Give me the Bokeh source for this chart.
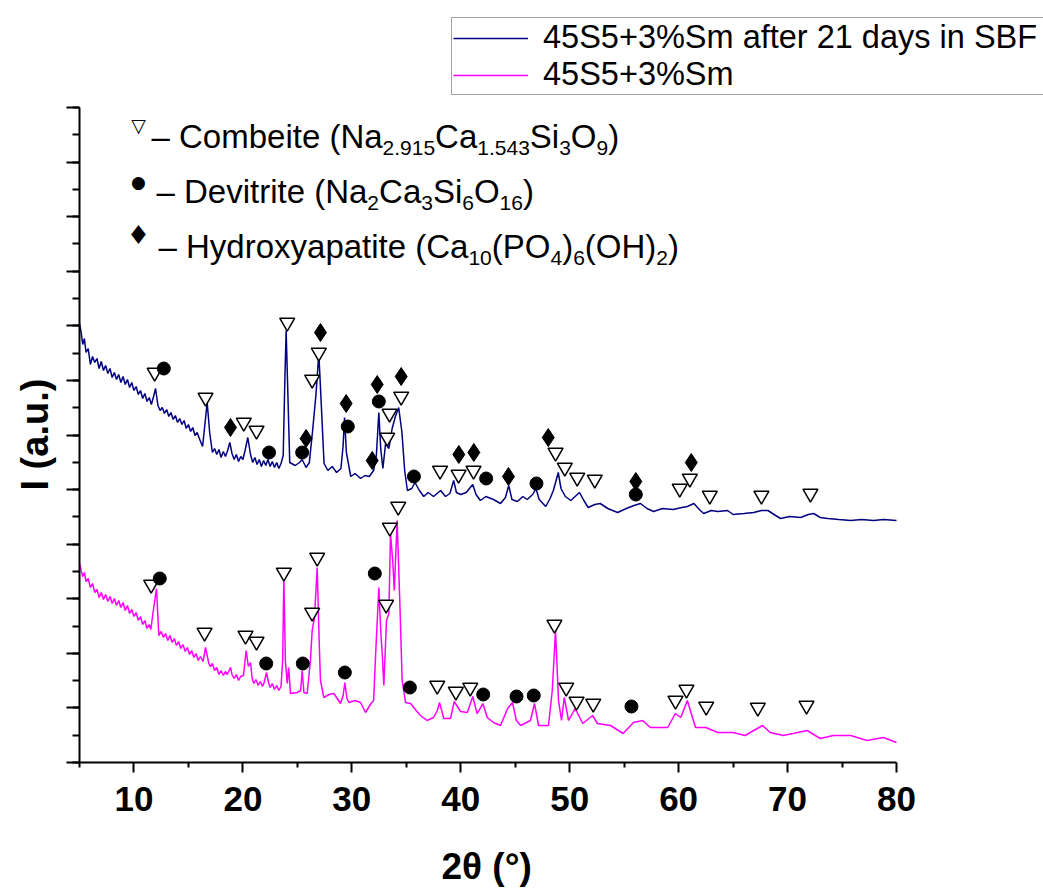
import numpy as np
from bokeh.plotting import figure
from bokeh.models import Range1d, FixedTicker, Label, Legend, LegendItem, CustomLabelingPolicy, Title
from bokeh.embed import file_html
from bokeh.resources import INLINE

# ---------------- data ----------------
# 45S5+3%Sm after 21 days in SBF (upper pattern)
two_theta_sbf = [5.0, 5.15, 5.3, 5.45, 5.6, 5.8, 6.0, 6.2, 6.4, 6.6, 6.8, 7.0, 7.2, 7.4, 7.6, 7.8,
                 8.0, 8.2, 8.4, 8.6, 8.8, 9.0, 9.2, 9.4, 9.6, 9.8, 10.0, 10.2, 10.4, 10.6, 10.8, 11.0,
                 11.2, 11.4, 11.6, 11.8, 11.98,
                 12.2, 12.4, 12.6, 12.8, 13.0, 13.2, 13.4, 13.6, 13.8, 14.0, 14.2, 14.4, 14.6, 14.8,
                 15.0, 15.2, 15.4, 15.6, 15.8, 16.0, 16.3, 16.55, 16.72,
                 16.95, 17.2, 17.4, 17.6, 17.8, 18.0, 18.2, 18.4, 18.6, 18.8, 19.0, 19.2, 19.4, 19.6,
                 19.8, 20.0, 20.2, 20.45, 20.7, 20.9, 21.1, 21.3, 21.5, 21.7, 21.9, 22.1, 22.3, 22.5,
                 22.7, 22.9, 23.1, 23.3, 23.5, 23.7,
                 23.85, 23.97, 24.12, 24.3,
                 24.8, 25.2, 25.44, 25.8, 26.1, 26.4, 26.7, 26.97, 27.2, 27.45, 27.8, 28.2, 28.6, 29.0,
                 29.2, 29.33, 29.5, 29.9, 30.3, 30.8, 31.2, 31.6, 32.0, 32.25, 32.48, 32.65, 32.85, 33.1,
                 33.4, 33.7, 34.0, 34.3, 34.6, 34.85, 35.1, 35.5, 35.8, 36.2, 36.6, 37.0, 37.5, 38.15,
                 38.6, 39.0, 39.35, 39.6, 40.0, 40.5, 41.1, 41.4, 41.8, 42.3, 43.0, 43.65, 44.1, 44.4,
                 44.7, 45.2, 45.7, 46.1, 46.6, 46.9, 47.2, 47.8, 48.2, 48.5, 48.95, 49.2, 49.6, 50.1,
                 50.9, 51.3, 51.7, 52.3, 52.8, 53.5, 54.4, 55.2, 55.9, 56.5, 57.1, 57.7, 58.5, 59.5,
                 60.3, 60.8, 61.4, 61.9, 62.3, 63.0, 63.6, 64.5, 65.0, 66.0, 66.9, 67.6, 68.2, 68.9,
                 69.35, 70.2, 71.2, 71.9, 72.4, 73.0, 73.7, 74.7, 75.8, 76.8, 77.9, 78.8, 80.0]
intensity_sbf = [439, 430, 418, 424, 410, 414, 398, 406, 400, 404, 394, 401, 392, 397, 389, 394,
                 385, 390, 383, 388, 380, 386, 378, 383, 375, 380, 372, 376, 368, 372, 364, 369,
                 361, 365, 358, 366, 374,
                 357, 352, 355, 349, 353, 346, 350, 343, 347, 340, 344, 338, 342, 334,
                 338, 331, 335, 327, 330, 324, 316, 342, 360,
                 330, 310, 314, 308, 313, 305, 311, 306, 312, 320, 309, 303, 308, 301,
                 306, 303, 312, 325, 308, 300, 305, 298, 303, 296, 302, 297, 303, 296,
                 301, 295, 300, 294, 299, 307,
                 382, 432, 372, 300,
                 297, 300, 303, 295, 300, 332, 367, 409, 357, 299, 292, 296, 290, 294,
                 317, 345, 310, 286, 289, 284, 287, 286, 292, 307, 350, 314, 294, 319,
                 314, 334, 346, 355, 330, 292, 272, 274, 280, 272, 266, 270, 266, 272,
                 266, 269, 282, 270, 268, 270, 278, 268, 262, 266, 263, 259, 265, 277,
                 263, 261, 266, 263, 268, 274, 263, 256, 264, 272, 290, 274, 266, 262,
                 270, 262, 255, 258, 259, 254, 250, 254, 257, 259, 254, 251, 254, 253,
                 255, 256, 259, 253, 249, 252, 251, 252, 248, 249, 250, 252, 252, 247,
                 244, 246, 245, 248, 249, 245, 244, 243, 242, 243, 242, 243, 242]

# 45S5+3%Sm (lower pattern)
two_theta_ref = [5.0, 5.15, 5.3, 5.45, 5.6, 5.8, 6.0, 6.2, 6.4, 6.6, 6.8, 7.0, 7.2, 7.4, 7.6, 7.8,
                 8.0, 8.2, 8.4, 8.6, 8.8, 9.0, 9.2, 9.4, 9.6, 9.8, 10.0, 10.2, 10.4, 10.6, 10.8, 11.0,
                 11.2, 11.4, 11.55, 11.75, 12.07,
                 12.28, 12.5, 12.7, 12.9, 13.1, 13.3, 13.5, 13.7, 13.9, 14.1, 14.3, 14.5, 14.7, 14.9,
                 15.1, 15.3, 15.5, 15.7, 15.9, 16.1, 16.35, 16.57,
                 16.87, 17.0, 17.2, 17.4, 17.6, 17.8, 18.0, 18.2, 18.4, 18.56, 18.86, 19.0, 19.2, 19.4,
                 19.6, 19.8, 20.05, 20.3,
                 20.5, 20.7, 20.85, 21.0, 21.2, 21.4, 21.6, 21.8, 21.95, 22.17, 22.35, 22.5, 22.7, 22.9,
                 23.1, 23.3, 23.5, 23.65,
                 23.76, 23.9, 24.07,
                 24.2, 24.37, 24.98, 25.3, 25.44, 25.6, 25.9, 26.2, 26.36, 26.57, 26.82, 27.0, 27.12,
                 27.43, 27.9, 28.35, 28.96, 29.2, 29.36, 29.55, 29.73, 30.3, 30.8, 31.26, 31.7, 32.0,
                 32.2, 32.48, 32.65, 32.79, 32.94, 33.18, 33.4, 33.55, 33.75, 33.9, 34.16, 34.4, 34.62,
                 34.93, 35.4, 35.9, 36.3, 36.9, 37.5, 37.85, 38.05, 38.44, 39.06, 39.4, 39.98, 40.6,
                 41.1, 41.5, 42.03, 42.43, 43.0, 43.65, 44.3, 44.75, 45.1, 45.5, 46.4, 46.77, 47.14,
                 48.05, 48.4, 48.7, 48.97, 49.25, 49.5, 49.9, 50.5, 51.2, 52.1, 52.55, 53.75, 54.9,
                 55.86, 56.7, 57.4, 59.0, 59.7, 60.2, 60.8, 61.55, 62.5, 63.6, 65.0, 66.1, 67.7, 68.4,
                 69.6, 70.5, 71.8, 73.0, 74.2, 75.8, 77.3, 78.8, 80.0]
intensity_ref = [199, 192, 186, 190, 181, 184, 175, 179, 170, 173, 165, 170, 163, 168, 161, 166,
                 159, 164, 157, 162, 155, 160, 152, 157, 149, 153, 146, 150, 142, 146, 138, 142,
                 134, 138, 133, 150, 174,
                 127, 131, 125, 129, 122, 127, 120, 124, 117, 121, 114, 118, 111, 115,
                 108, 112, 105, 109, 102, 106, 101, 115,
                 99, 96, 99, 92, 95, 88, 92, 87, 91, 88, 95, 88, 84, 88,
                 82, 86, 87, 112,
                 96, 100, 84, 79, 83, 77, 81, 76, 80, 90, 80, 75, 79, 73,
                 77, 72, 76, 102,
                 184, 102, 79,
                 95, 69, 70, 72, 92, 70, 69, 102, 132, 145, 195, 122, 82,
                 65, 68, 69, 59, 67, 80, 64, 60, 62, 60, 50, 58, 62,
                 112, 175, 132, 109, 77, 142, 149, 229, 202, 172, 242, 162, 82,
                 60, 59, 52, 47, 42, 45, 52, 60, 44, 44, 61, 51, 50,
                 66, 49, 59, 45, 40, 37, 54, 60, 42, 37, 42, 59, 37,
                 37, 72, 132, 62, 42, 65, 42, 54, 39, 47, 39, 37, 29,
                 40, 42, 35, 35, 49, 45, 62, 35, 35, 30, 30, 27, 37, 30,
                 27, 29, 32, 24, 27, 27, 22, 25, 20]

# phase markers: combeite (open triangles), devitrite (dots), hydroxyapatite (diamonds)
comb_sbf_x = [11.9, 16.57, 20.08, 21.25, 24.07, 26.36, 26.97, 33.25, 33.46, 34.53, 38.1, 39.8, 41.17,
              48.7, 49.55, 50.69, 52.3, 60.1, 61.03, 62.86, 67.6, 72.1]
comb_sbf_y = [390, 365, 340, 332, 440, 383, 410, 325, 349, 366, 292, 288, 292,
              310, 295, 285, 283, 274, 284, 267, 267, 269]
dev_sbf_x = [12.74, 22.4, 25.44, 29.63, 32.48, 35.7, 42.33, 46.95, 56.07]
dev_sbf_y = [394, 310, 310, 336, 361, 286, 284, 279, 268]
hap_sbf_x = [18.86, 25.8, 27.12, 29.48, 31.87, 32.33, 34.53, 39.82, 41.2, 44.38, 48.03, 56.07, 61.16]
hap_sbf_y = [335, 324, 430, 359, 302, 378, 386, 308, 310, 286, 325, 281, 300]

comb_ref_x = [11.58, 16.48, 20.24, 21.25, 23.76, 26.36, 26.82, 33.15, 33.49, 34.26, 37.84, 39.55, 40.87,
              48.6, 49.68, 50.63, 52.16, 59.71, 60.72, 62.53, 67.27, 71.74]
comb_ref_y = [178, 130, 127, 121, 190, 150, 205, 158, 235, 256, 77, 71, 75,
              138, 75, 61, 59, 62, 73, 56, 55, 57]
dev_ref_x = [12.37, 22.14, 25.5, 29.36, 32.11, 35.33, 42.06, 45.12, 46.7, 55.67]
dev_ref_y = [184, 99, 99, 90, 189, 75, 68, 66, 67, 56]

x_ticks = [10, 20, 30, 40, 50, 60, 70, 80]
x_minor_ticks = [5, 15, 25, 35, 45, 55, 65, 75]

legend_labels = ["45S5+3%Sm after 21 days in SBF", "45S5+3%Sm"]
line_colors = ["#000080", "#ff00ff"]

# ---------------- layout ----------------
W, H = 1043, 889
L, R, B = 79, 896, 762          # frame left, x=80 position, x-axis position (px)
AX_TOP = 655                    # y-axis extends 655 px above the x axis
X0, X1 = 5, 80
x_end = X0 + (W - L) * (X1 - X0) / (R - L)   # frame runs to the canvas edge (room for the legend)

p = figure(width=W, height=H, x_range=Range1d(X0, x_end), y_range=Range1d(0, B),
           output_backend="svg", toolbar_location=None, title=None,
           min_border_left=L, min_border_right=0, min_border_top=0, min_border_bottom=H - B)
p.outline_line_color = None
p.background_fill_color = "white"
p.border_fill_color = "white"
p.xgrid.visible = False
p.ygrid.visible = False


def px2x(px):
    return X0 + (px - L) * (X1 - X0) / (R - L)


def py2y(py):
    return B - py


# axes
xa = p.xaxis[0]
xa.ticker = FixedTicker(ticks=x_ticks, minor_ticks=x_minor_ticks)
xa.bounds = (X0, X1)
xa.axis_line_width = 2
xa.major_tick_line_width = 2
xa.minor_tick_line_width = 2
xa.major_tick_in = 0
xa.major_tick_out = 10
xa.minor_tick_in = 0
xa.minor_tick_out = 5
xa.major_label_text_font = "Liberation Sans"
xa.major_label_text_font_style = "bold"
xa.major_label_text_font_size = "35px"
xa.major_label_text_color = "black"
xa.major_label_standoff = 14

ya = p.yaxis[0]
y_major = list(np.linspace(0, AX_TOP, 13))
y_minor = list(np.linspace(0, AX_TOP, 25))
ya.ticker = FixedTicker(ticks=y_major, minor_ticks=y_minor)
ya.bounds = (0, AX_TOP)
ya.axis_line_width = 2
ya.major_tick_line_width = 2
ya.minor_tick_line_width = 2
ya.major_tick_in = 0
ya.major_tick_out = 13
ya.minor_tick_in = 0
ya.minor_tick_out = 7
ya.major_label_text_font_size = "1px"
ya.major_label_standoff = 0
ya.major_label_policy = CustomLabelingPolicy(
    code="const all = [...indices]; for (const i of all) { indices.unset(i) } return indices")

# axis titles as side-panel titles so they can be placed off the frame centre
p.add_layout(Title(text="2θ (°)", align="left", offset=441 - L, vertical_align="top", standoff=0,
                   padding=dict(left=0, right=0, top=32, bottom=0),
                   text_font="Liberation Sans", text_font_style="bold", text_font_size="37px",
                   text_color="black"), "below")
p.add_layout(Title(text="I (a.u.)", align="left", offset=B - 490, vertical_align="bottom", standoff=8,
                   text_font="Liberation Sans", text_font_style="bold", text_font_size="38px",
                   text_color="black"), "left")

# curves
r_sbf = p.line(two_theta_sbf, intensity_sbf, line_color=line_colors[0], line_width=1.5)
r_ref = p.line(two_theta_ref, intensity_ref, line_color=line_colors[1], line_width=1.5)

# markers
tri = dict(marker="inverted_triangle", size=15, fill_color="white", line_color="black", line_width=1.5)
dot = dict(marker="circle", size=13, fill_color="black", line_color="black")
dia = dict(marker="diamond", size=18, fill_color="black", line_color="black")
p.scatter(comb_sbf_x, comb_sbf_y, **tri)
p.scatter(dev_sbf_x, dev_sbf_y, **dot)
p.scatter(hap_sbf_x, hap_sbf_y, **dia)
p.scatter(comb_ref_x, comb_ref_y, **tri)
p.scatter(dev_ref_x, dev_ref_y, **dot)

# legend (box runs past the right edge, as in the original)
legend = Legend(items=[LegendItem(label=legend_labels[0], renderers=[r_sbf]),
                       LegendItem(label=legend_labels[1], renderers=[r_ref])],
                location=(451 - L, B - 95),
                label_text_font="Liberation Sans", label_text_font_size="32.5px",
                label_text_color="black", glyph_width=75, glyph_height=30,
                label_standoff=15, label_width=520, padding=1, spacing=0, margin=0,
                border_line_color="#444444", border_line_width=1,
                background_fill_color="white", background_fill_alpha=1.0)
p.add_layout(legend)

# phase key with sub-scripted formulas
WID = {' ': 278, '(': 333, ')': 333, '.': 278, '–': 556, '%': 889, '+': 584,
       'A': 667, 'B': 667, 'C': 722, 'D': 722, 'F': 611, 'H': 722, 'N': 722, 'O': 778, 'P': 667,
       'S': 667, 'a': 556, 'b': 556, 'd': 556, 'e': 556, 'f': 278, 'h': 556, 'i': 222, 'm': 833,
       'n': 556, 'o': 556, 'p': 556, 'r': 333, 's': 500, 't': 278, 'v': 500, 'x': 500, 'y': 500}


def tw(txt, size):
    return sum(WID.get(c, 556) for c in txt) * size / 1000.0


MAIN, SUB, SUB_DY = 33, 21, 11


def formula(x0, base, pieces):
    x = x0
    for txt, sub in pieces:
        size = SUB if sub else MAIN
        p.add_layout(Label(x=px2x(x), y=py2y(base + (SUB_DY if sub else 0)), text=txt,
                           text_font="Liberation Sans", text_font_size=f"{size}px",
                           text_align="left", text_baseline="alphabetic", text_color="black"))
        x += tw(txt, size)


rows = [
    ("▽", "19px", 124, 151, 136, [("– Combeite (Na", 0), ("2.915", 1), ("Ca", 0), ("1.543", 1), ("Si", 0),
                                  ("3", 1), ("O", 0), ("9", 1), (")", 0)]),
    ("●", "17px", 181, 156, 191, [("– Devitrite (Na", 0), ("2", 1), ("Ca", 0), ("3", 1), ("Si", 0),
                                  ("6", 1), ("O", 0), ("16", 1), (")", 0)]),
    ("♦", "26px", 234, 158, 246, [("– Hydroxyapatite (Ca", 0), ("10", 1), ("(PO", 0), ("4", 1), (")", 0),
                                  ("6", 1), ("(OH)", 0), ("2", 1), (")", 0)]),
]
for sym, sym_size, sym_y, x0, base, pieces in rows:
    p.add_layout(Label(x=px2x(138), y=py2y(sym_y), text=sym, text_font="DejaVu Sans",
                       text_font_size=sym_size, text_align="center", text_baseline="middle",
                       text_color="black"))
    formula(x0, base, pieces)

open("out.html", "w").write(file_html(p, INLINE))
